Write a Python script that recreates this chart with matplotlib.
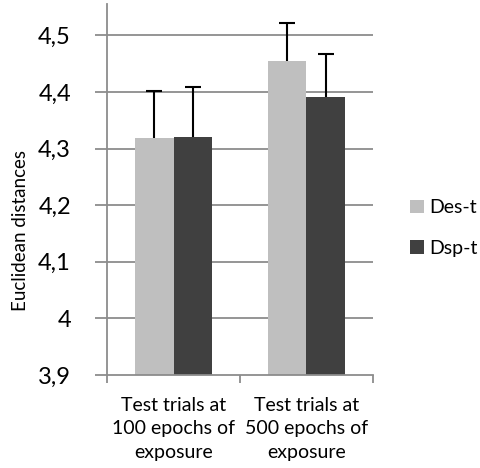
import matplotlib.pyplot as plt
import numpy as np

plt.rcParams['font.family'] = ['Lato', 'DejaVu Sans']

# data
groups = ['Test trials at\n100 epochs of\nexposure', 'Test trials at\n500 epochs of\nexposure']
des_t = [4.318, 4.455]
dsp_t = [4.320, 4.391]
des_err = [0.084, 0.066]
dsp_err = [0.088, 0.076]
yticks = [3.9, 4.0, 4.1, 4.2, 4.3, 4.4, 4.5]
ytick_labels = ['3,9', '4', '4,1', '4,2', '4,3', '4,4', '4,5']

fig = plt.figure(figsize=(4.8, 4.68), dpi=100)
ax = fig.add_axes([0.223, 0.199, 0.554, 0.792])

x = np.arange(len(groups))
w = 0.29
ekw = dict(ecolor='black', capsize=6, elinewidth=1.5, capthick=1.5)
b1 = ax.bar(x - w/2, des_t, w, color='#bfbfbf', label='Des-t', zorder=2,
            yerr=[[0, 0], des_err], error_kw=ekw)
b2 = ax.bar(x + w/2, dsp_t, w, color='#404040', label='Dsp-t', zorder=2,
            yerr=[[0, 0], dsp_err], error_kw=ekw)
# only upper error bars: hide the lower caps
for b in (b1, b2):
    b.errorbar.lines[1][0].set_visible(False)

ax.set_ylim(3.9, 4.555)
ax.set_xlim(-0.5, 1.5)
ax.set_yticks(yticks)
ax.set_yticklabels(ytick_labels, fontsize=17)
for t in yticks[1:]:
    ax.axhline(t, color='#8c8c8c', lw=1.3, zorder=1)

ax.set_xticks([-0.5, 0.5, 1.5])
ax.set_xticklabels([])
ax.set_xticks(x, minor=True)
ax.set_xticklabels(groups, minor=True, fontsize=14, linespacing=1.45)
ax.tick_params(axis='x', which='minor', length=0, pad=16)
ax.tick_params(axis='x', which='major', length=6, color='#8c8c8c', width=1.3)
ax.tick_params(axis='y', length=9, color='#8c8c8c', width=1.3, pad=17)

for s in ['top', 'right']:
    ax.spines[s].set_visible(False)
for s in ['left', 'bottom']:
    ax.spines[s].set_color('#8c8c8c')
    ax.spines[s].set_linewidth(1.3)

ax.set_ylabel('Euclidean distances', fontsize=13.5)
ax.yaxis.set_label_coords(-0.295, 0.39)

ax.legend(loc='center left', bbox_to_anchor=(1.11, 0.396), frameon=False,
          fontsize=14, handlelength=0.7, handleheight=0.7, labelspacing=1.2,
          handletextpad=0.3, borderaxespad=0)

fig.savefig('out.png', dpi=100)
